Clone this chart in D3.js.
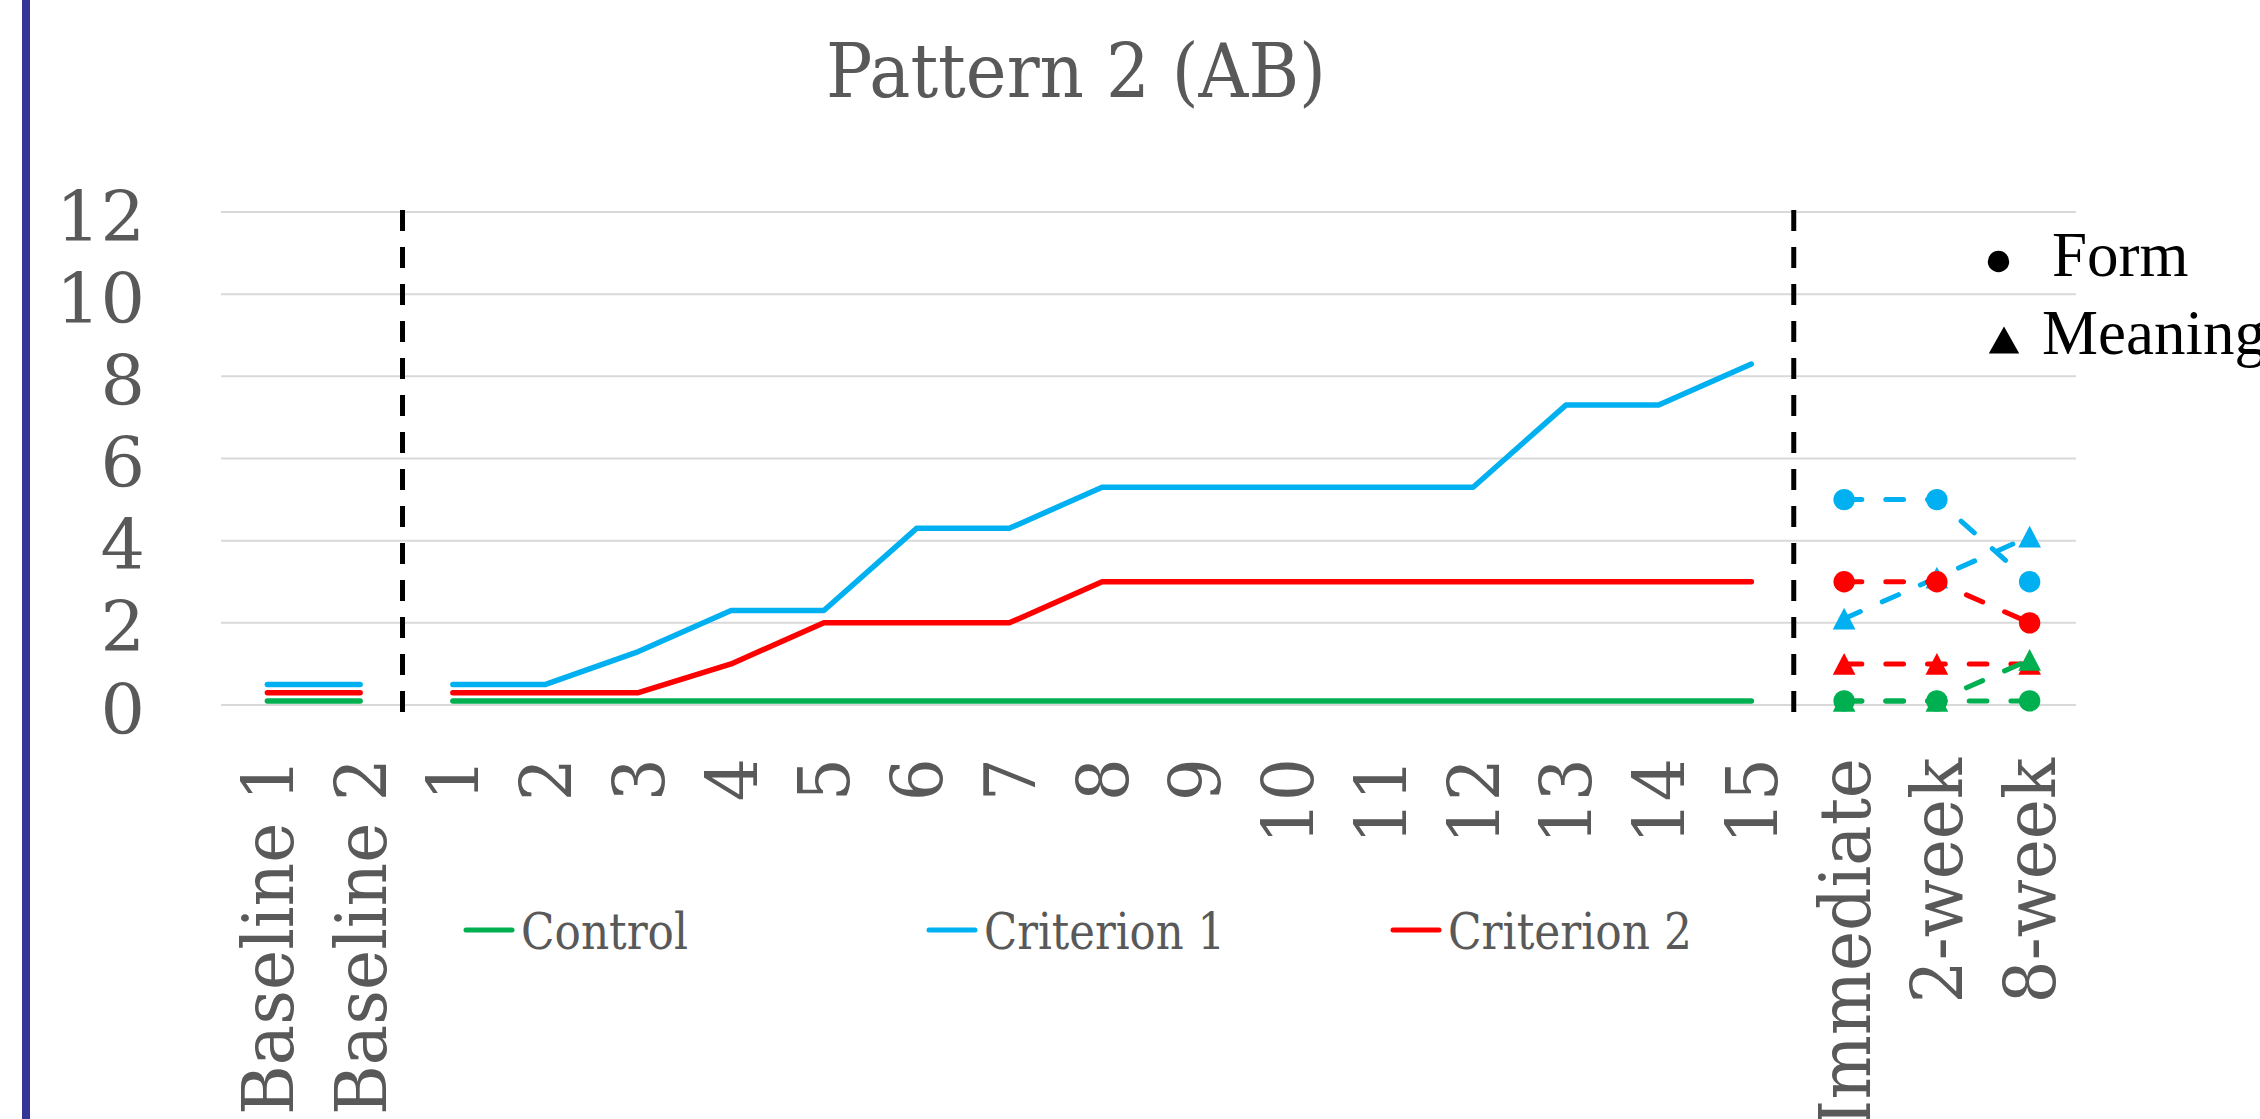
<!DOCTYPE html>
<html>
<head>
<meta charset="utf-8">
<script src="https://cdn.jsdelivr.net/npm/d3@7"></script>
<style>
  html, body { margin: 0; padding: 0; background: #fff; }
  svg { display: block; }
</style>
</head>
<body>
<script>
// ---------------- data ----------------
const categories = ["Baseline 1", "Baseline 2",
  "1","2","3","4","5","6","7","8","9","10","11","12","13","14","15",
  "Immediate", "2-week", "8-week"];

const baselineCats = ["Baseline 1", "Baseline 2"];
const controlBaseline = [0.1, 0.1];
const crit1Baseline   = [0.5, 0.5];
const crit2Baseline   = [0.3, 0.3];

const sessionCats = ["1","2","3","4","5","6","7","8","9","10","11","12","13","14","15"];
const controlSessions = [0.1,0.1,0.1,0.1,0.1,0.1,0.1,0.1,0.1,0.1,0.1,0.1,0.1,0.1,0.1];
const crit1Sessions   = [0.5,0.5,1.3,2.3,2.3,4.3,4.3,5.3,5.3,5.3,5.3,5.3,7.3,7.3,8.3];
const crit2Sessions   = [0.3,0.3,0.3,1,2,2,2,3,3,3,3,3,3,3,3];

const followCats = ["Immediate", "2-week", "8-week"];
const controlForm    = [0.1, 0.1, 0.1];
const controlMeaning = [0.1, 0.1, 1.1];
const crit1Form      = [5, 5, 3];
const crit1Meaning   = [2.1, 3.1, 4.1];
const crit2Form      = [3, 3, 2];
const crit2Meaning   = [1, 1, 1];

const yTicks = [0, 2, 4, 6, 8, 10, 12];
const phaseBreakAfter = ["Baseline 2", "15"];

const seriesNames = ["Control", "Criterion 1", "Criterion 2"];
const seriesColors = ["#00B050", "#00B0F0", "#FF0000"];
const titleText = "Pattern 2 (AB)";
const markerLegend = ["Form", "Meaning"];

// ---------------- layout ----------------
const W = 2260, H = 1119;
const textGray = "#595959";
const serif = "'DejaVu Serif', serif";

const svg = d3.select("body").append("svg")
  .attr("width", W).attr("height", H)
  .attr("viewBox", `0 0 ${W} ${H}`);

svg.append("rect").attr("width", W).attr("height", H).attr("fill", "#fff");

// left blue border
svg.append("rect").attr("x", 22).attr("y", 0).attr("width", 8).attr("height", H)
  .attr("fill", "#353597");

const x = d3.scaleBand().domain(categories).range([221, 2076]).padding(0);
const cx = c => x(c) + x.bandwidth() / 2;
const y = d3.scaleLinear().domain([0, 12]).range([705, 212]);

function squeeze(sel, k) {
  sel.each(function () {
    const len = this.getComputedTextLength();
    d3.select(this).attr("textLength", len * k).attr("lengthAdjust", "spacingAndGlyphs");
  });
}

// title
svg.append("text")
  .attr("x", 1076).attr("y", 97)
  .attr("text-anchor", "middle")
  .attr("font-family", serif).attr("font-size", 74)
  .attr("fill", textGray)
  .attr("textLength", 500).attr("lengthAdjust", "spacingAndGlyphs")
  .text(titleText);

// gridlines
const grid = svg.append("g");
grid.selectAll("line").data(yTicks).join("line")
  .attr("x1", x.range()[0]).attr("x2", x.range()[1])
  .attr("y1", d => y(d)).attr("y2", d => y(d))
  .attr("stroke", "#D9D9D9").attr("stroke-width", 2);

// y axis labels
const yAxis = d3.axisLeft(y).tickValues(yTicks).tickSize(0).tickPadding(0);
const yg = svg.append("g").attr("transform", "translate(145,0)").call(yAxis);
yg.select(".domain").remove();
yg.selectAll("text")
  .attr("font-family", serif).attr("font-size", 70)
  .attr("fill", textGray)
  .attr("dy", 28).attr("x", 0)
  .attr("text-anchor", "end");

// x axis labels (rotated)
const xAxis = d3.axisBottom(x).tickSize(0).tickPadding(0);
const xg = svg.append("g").call(xAxis);
xg.select(".domain").remove();
xg.selectAll(".tick").attr("transform", d => `translate(${cx(d)},758)`);
xg.selectAll("text")
  .attr("font-family", serif).attr("font-size", 71)
  .attr("fill", textGray)
  .attr("transform", "rotate(-90)")
  .attr("x", 0).attr("y", 0)
  .attr("dy", "0.36em")
  .attr("text-anchor", "end")
  .call(squeeze, 0.955);

// phase change dashed lines
svg.append("g").selectAll("line").data(phaseBreakAfter).join("line")
  .attr("x1", d => x(d) + x.bandwidth() - 4)
  .attr("x2", d => x(d) + x.bandwidth() - 4)
  .attr("y1", 210).attr("y2", 712)
  .attr("stroke", "#000").attr("stroke-width", 5)
  .attr("stroke-dasharray", "21,16");

const line = d3.line().x(d => cx(d.c)).y(d => y(d.v));
const zip = (cats, vals) => cats.map((c, i) => ({ c, v: vals[i] }));

// solid phase lines
const solid = svg.append("g").attr("fill", "none")
  .attr("stroke-width", 5.5).attr("stroke-linecap", "round").attr("stroke-linejoin", "round");
const baselineSeries = [controlBaseline, crit1Baseline, crit2Baseline];
const sessionSeries = [controlSessions, crit1Sessions, crit2Sessions];
[0, 1, 2].forEach(i => {
  solid.append("path").attr("d", line(zip(baselineCats, baselineSeries[i])))
    .attr("stroke", seriesColors[i]);
  solid.append("path").attr("d", line(zip(sessionCats, sessionSeries[i])))
    .attr("stroke", seriesColors[i]);
});

// follow-up dashed series with markers
const triPath = (w, h) => `M0,${-h/2}L${w/2},${h/2}L${-w/2},${h/2}Z`;
const followSeries = [
  { vals: crit1Meaning,   color: seriesColors[1], shape: "tri" },
  { vals: crit2Meaning,   color: seriesColors[2], shape: "tri" },
  { vals: crit1Form,      color: seriesColors[1], shape: "circle" },
  { vals: crit2Form,      color: seriesColors[2], shape: "circle" },
  { vals: controlMeaning, color: seriesColors[0], shape: "tri" },
  { vals: controlForm,    color: seriesColors[0], shape: "circle" }
];
const fg = svg.append("g");
followSeries.forEach(s => {
  const pts = zip(followCats, s.vals);
  fg.append("path").attr("d", line(pts))
    .attr("fill", "none").attr("stroke", s.color)
    .attr("stroke-width", 5).attr("stroke-linecap", "round")
    .attr("stroke-dasharray", "17.7,24");
  if (s.shape === "circle") {
    fg.append("g").selectAll("circle").data(pts).join("circle")
      .attr("cx", d => cx(d.c)).attr("cy", d => y(d.v)).attr("r", 10.7)
      .attr("fill", s.color);
  } else {
    fg.append("g").selectAll("path").data(pts).join("path")
      .attr("d", triPath(22.7, 21.7))
      .attr("transform", d => `translate(${cx(d.c)},${y(d.v)})`)
      .attr("fill", s.color);
  }
});

// bottom legend
const legX = [464, 927, 1391];
const legTextW = [167, 241, 244];
const leg = svg.append("g");
seriesNames.forEach((name, i) => {
  leg.append("line")
    .attr("x1", legX[i] + 2).attr("x2", legX[i] + 48)
    .attr("y1", 930).attr("y2", 930)
    .attr("stroke", seriesColors[i]).attr("stroke-width", 5)
    .attr("stroke-linecap", "round");
  leg.append("text")
    .attr("x", legX[i] + 57).attr("y", 949)
    .attr("font-family", serif).attr("font-size", 50)
    .attr("fill", textGray)
    .attr("textLength", legTextW[i]).attr("lengthAdjust", "spacingAndGlyphs")
    .text(name);
});

// marker legend (Form / Meaning)
const ml = svg.append("g");
ml.append("circle").attr("cx", 1998.5).attr("cy", 261.5).attr("r", 10.7).attr("fill", "#000");
ml.append("text").attr("x", 2052).attr("y", 276)
  .attr("font-family", "'Liberation Serif', 'Times New Roman', serif")
  .attr("font-size", 63).attr("fill", "#000").text(markerLegend[0]);
ml.append("path").attr("d", triPath(30.4, 26.8))
  .attr("transform", "translate(2004,340)").attr("fill", "#000");
ml.append("text").attr("x", 2042).attr("y", 354)
  .attr("font-family", "'Liberation Serif', 'Times New Roman', serif")
  .attr("font-size", 63).attr("fill", "#000").text(markerLegend[1]);
</script>
</body>
</html>
